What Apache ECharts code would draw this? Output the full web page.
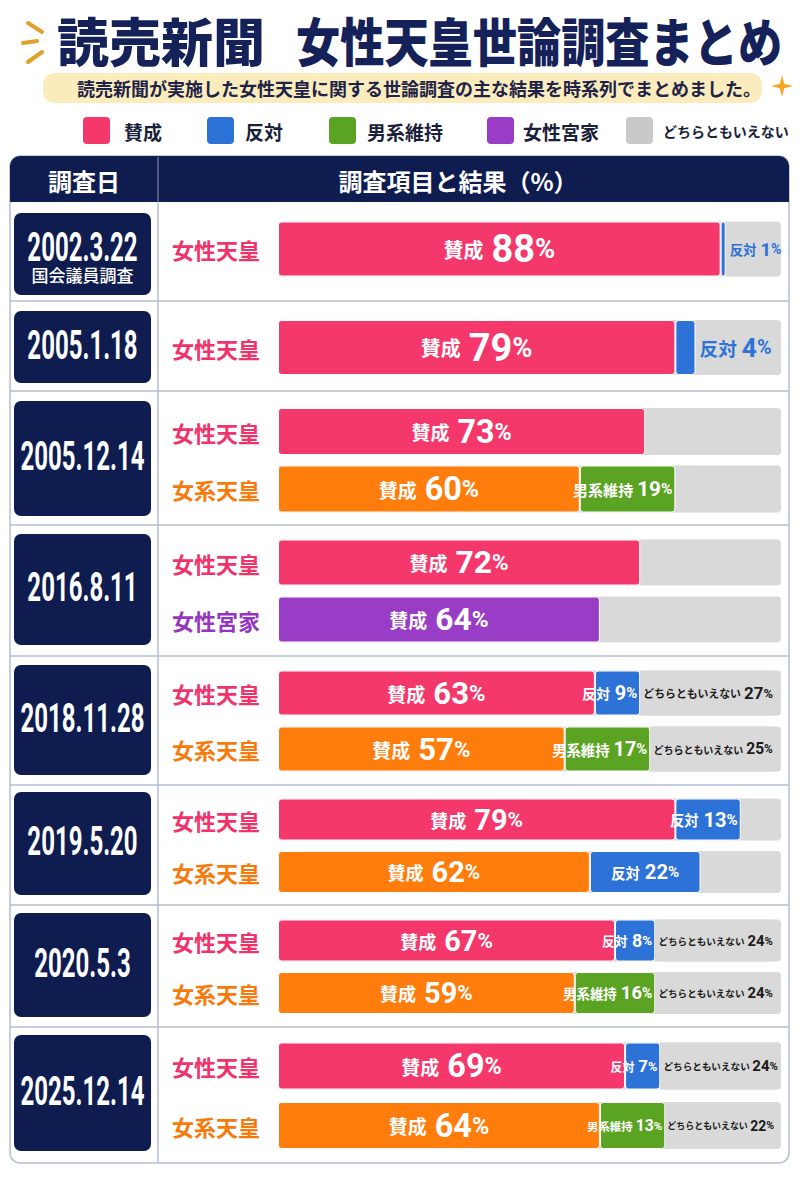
<!DOCTYPE html>
<html><head><meta charset="utf-8">
<script src="https://cdn.jsdelivr.net/npm/echarts@6/dist/echarts.min.js"></script>
<style>html,body{margin:0;padding:0;background:#fff}#c{width:800px;height:1200px}</style>
</head><body><div id="c"></div>
<script>
// ---------------- DATA ----------------
const surveyDates = ['2002.3.22','2005.1.18','2005.12.14','2016.8.11','2018.11.28','2019.5.20','2020.5.3','2025.12.14'];
const surveyNotes = ['国会議員調査','','','','','','',''];
const rowGroup = [0,1,2,2,3,3,4,4,5,5,6,6,7,7];
const rowTopic = ['女性天皇','女性天皇','女性天皇','女系天皇','女性天皇','女性宮家','女性天皇','女系天皇','女性天皇','女系天皇','女性天皇','女系天皇','女性天皇','女系天皇'];
const approve  = [88,79,73,60,72,64,63,57,79,62,67,59,69,64];
const oppose   = [1,4,null,null,null,null,9,null,13,22,8,null,7,null];
const maleLine = [null,null,null,19,null,null,null,17,null,null,null,16,null,13];
const neutral  = [null,null,null,null,null,null,27,25,null,null,24,24,24,22];
const legendNames = ['賛成','反対','男系維持','女性宮家','どちらともいえない'];
const titleMain = ['読売新聞','女性天皇世論調査まとめ'];
const subtitle = '読売新聞が実施した女性天皇に関する世論調査の主な結果を時系列でまとめました。';
const headerLeft = '調査日';
const headerRight = '調査項目と結果（%）';

// ---------------- STYLE / LAYOUT ----------------
const C = {pink:'#f4386b', blue:'#2d72d6', green:'#5ba323', orange:'#ff7d0c', purple:'#9a3dc6', grey:'#d9d9d9', navy:'#0e1c50', title:'#15225a', line:'#b3bdd4'};
const topicColor = {'女性天皇':C.pink,'女系天皇':C.orange,'女性宮家':C.purple};
const topicTextColor = {'女性天皇':'#f0336a','女系天皇':'#f77b0c','女性宮家':'#9636c0'};
const legendColors = [C.pink,C.blue,C.green,C.purple,'#c9c9c9'];
const legendSquareX = [83,207,329,487,626];
const legendTextX = [124,245,367,523,663];
const legendFont = [19,19,19,19,14];
const JP = '"Noto Sans CJK JP", sans-serif';
const NUM = 'Roboto, "Noto Sans CJK JP", sans-serif';
const GRID_LEFT = 278, GRID_RIGHT = 19, BAR_W = 800 - GRID_LEFT - GRID_RIGHT;
const gridTop = [209,307.5,402.75,534,665,793.25,914.25,1036.25];
const gridH = [80,80,115,114,112,105,105,119];
const barW = [55,55,47,46,45,42,42,47];
const boxY = [[213,295],[311,383],[401,516],[534,645],[665,775],[792,895],[913,1017],[1035,1151]];
const dividerY = [301,391,525,656,785,905,1027];

function makeLabel(kind, value, startVal, bw){
  let text, base, col;
  if (kind==='approve'){ text='賛成'; const n=bw*0.69; base={t:Math.round(12+bw*0.15), n:n, p:n*0.72, gap:8}; col='#fff'; }
  else if (kind==='oppose'){ text='反対'; base={t:bw*0.34, n:bw*0.48, p:bw*0.36, gap:5}; col='#fff'; }
  else if (kind==='male'){ text='男系維持'; base={t:bw*0.32, n:bw*0.44, p:bw*0.33, gap:4}; col='#fff'; }
  else { text='どちらともいえない'; base={t:bw*0.245, n:bw*0.38, p:bw*0.29, gap:3}; col='#1b1b1b'; }
  let position='inside', distance=4;
  let avail = value/100*BAR_W - 6;
  const need = base.t*text.length + base.gap + base.n*0.57*String(value).length + base.p*0.75;
  let k = Math.max(0.78, Math.min(1, avail/need));
  if (kind==='oppose' && value < 6){
    position='right'; col=C.blue;
    avail = (100-startVal-value)/100*BAR_W - 10;
    k = Math.max(0.72, Math.min(1, avail/need));
  } else if ((kind==='oppose' || kind==='male') && need > avail){
    position='insideRight'; distance=3;
    k = Math.max(0.75, Math.min(1, (avail+16)/need));
  }
  return {
    show:true, position:position, distance:distance,
    formatter:'{t|'+text+'}{n|'+value+'}{p|%}',
    rich:{
      t:{fontSize:base.t*k, fontWeight:'bold', color:col, fontFamily:JP, padding:[0, base.gap*k, 0, 0]},
      n:{fontSize:base.n*k, fontWeight:'bold', color:col, fontFamily:NUM},
      p:{fontSize:base.p*k, fontWeight:'bold', color:col, fontFamily:NUM}
    }
  };
}

const grids=[], xAxes=[], yAxes=[], series=[];
surveyDates.forEach((d,g)=>{
  const rows = rowGroup.map((gg,i)=>gg===g?i:-1).filter(i=>i>=0);
  const bw = barW[g];
  grids.push({left:GRID_LEFT, right:GRID_RIGHT, top:gridTop[g], height:gridH[g], containLabel:false, outerBoundsMode:'none'});
  xAxes.push({type:'value', gridIndex:g, min:0, max:100, show:false});
  yAxes.push({type:'category', gridIndex:g, inverse:true, data:rows.map(i=>rowTopic[i]),
    axisLine:{show:false}, axisTick:{show:false}, splitLine:{show:false},
    axisLabel:{margin:18, fontSize:22, fontWeight:'bold', fontFamily:JP, color:(v)=>topicTextColor[v]}});
  const common = {type:'bar', xAxisIndex:g, yAxisIndex:g, stack:'s'+g, barWidth:bw,
    itemStyle:{borderRadius:3, borderColor:'#fff', borderWidth:1}};
  series.push(Object.assign({}, common, {name:'賛成', showBackground:true,
    backgroundStyle:{color:C.grey, borderRadius:4},
    data: rows.map(i=>({value:approve[i], itemStyle:{color:topicColor[rowTopic[i]]}, label:makeLabel('approve',approve[i],0,bw)}))}));
  series.push(Object.assign({}, common, {name:'反対', itemStyle:Object.assign({color:C.blue}, common.itemStyle),
    data: rows.map(i=>oppose[i]==null?'-':({value:oppose[i], label:makeLabel('oppose',oppose[i],approve[i],bw)}))}));
  series.push(Object.assign({}, common, {name:'男系維持', itemStyle:Object.assign({color:C.green}, common.itemStyle),
    data: rows.map(i=>maleLine[i]==null?'-':({value:maleLine[i], label:makeLabel('male',maleLine[i],approve[i],bw)}))}));
  series.push(Object.assign({}, common, {name:'どちらともいえない', itemStyle:{color:C.grey, borderRadius:3, borderColor:C.grey, borderWidth:1},
    data: rows.map(i=>neutral[i]==null?'-':({value:neutral[i], label:makeLabel('neutral',neutral[i],0,bw)}))}));
});

// ---------------- GRAPHICS ----------------
const gfx = [];
gfx.push({type:'rect', z:-10, shape:{x:10,y:156,width:779,height:1007,r:10}, style:{fill:'#fff', stroke:C.line, lineWidth:1.5}});
gfx.push({type:'rect', z:-9, shape:{x:10,y:156,width:779,height:46,r:[10,10,0,0]}, style:{fill:C.navy}});
gfx.push({type:'line', z:-8, shape:{x1:158,y1:202,x2:158,y2:1163}, style:{stroke:C.line, lineWidth:1.5}});
gfx.push({type:'line', z:-8, shape:{x1:158,y1:157,x2:158,y2:202}, style:{stroke:'rgba(255,255,255,0.55)', lineWidth:1}});
dividerY.forEach(y=>gfx.push({type:'line', z:-8, shape:{x1:10,y1:y,x2:789,y2:y}, style:{stroke:C.line, lineWidth:1.5}}));
gfx.push({type:'text', x:84, y:180, style:{text:headerLeft, fill:'#fff', font:'bold 24px '+JP, textAlign:'center', textVerticalAlign:'middle'}});
gfx.push({type:'text', x:458, y:180, style:{text:headerRight, fill:'#fff', font:'bold 24px '+JP, textAlign:'center', textVerticalAlign:'middle'}});
surveyDates.forEach((d,g)=>{
  const [y0,y1] = boxY[g];
  gfx.push({type:'rect', z:-5, shape:{x:14,y:y0,width:137,height:y1-y0,r:7}, style:{fill:C.navy}});
  const cy = (y0+y1)/2;
  if (surveyNotes[g]){
    gfx.push({type:'text', x:82.5, y:cy-7, scaleX:0.6, style:{text:d, fill:'#fff', font:'bold 40px Roboto', textAlign:'center', textVerticalAlign:'middle'}});
    gfx.push({type:'text', x:82.5, y:cy+20, style:{text:surveyNotes[g], fill:'#fff', font:'500 17px '+JP, textAlign:'center', textVerticalAlign:'middle'}});
  } else {
    gfx.push({type:'text', x:82.5, y:cy-2, scaleX:0.6, style:{text:d, fill:'#fff', font:'bold 40px Roboto', textAlign:'center', textVerticalAlign:'middle'}});
  }
});
gfx.push({type:'text', x:57, y:39, style:{text:titleMain[0], fill:C.title, font:'900 52px '+JP, textAlign:'left', textVerticalAlign:'middle'}});
gfx.push({type:'text', x:296, y:39, scaleX:0.85, style:{text:titleMain[1], fill:C.title, font:'900 52px '+JP, textAlign:'left', textVerticalAlign:'middle'}});
[[28,23,42,32],[23,43,37,41],[28,62,42,52]].forEach(s=>gfx.push({type:'line', shape:{x1:s[0],y1:s[1],x2:s[2],y2:s[3]}, style:{stroke:'#dfa12a', lineWidth:4, lineCap:'round'}}));
gfx.push({type:'rect', shape:{x:43,y:73,width:719,height:30,r:12}, style:{fill:'#fbecbd'}});
gfx.push({type:'text', x:77, y:88, style:{text:subtitle, fill:'#1e2347', font:'bold 18px '+JP, textAlign:'left', textVerticalAlign:'middle'}});
gfx.push({type:'polygon', shape:{points:[[782,75],[784.2,83.8],[793,86],[784.2,88.2],[782,97],[779.8,88.2],[771,86],[779.8,83.8]]}, style:{fill:'#f5a623'}});
legendNames.forEach((n,i)=>{
  gfx.push({type:'rect', shape:{x:legendSquareX[i], y:117, width:27, height:27, r:4}, style:{fill:legendColors[i]}});
  gfx.push({type:'text', x:legendTextX[i], y:131, style:{text:n, fill:'#1a1f3a', font:'bold '+legendFont[i]+'px '+JP, textAlign:'left', textVerticalAlign:'middle'}});
});

const chart = echarts.init(document.getElementById('c'), null, {renderer:'svg'});
chart.setOption({
  animation:false,
  backgroundColor:'#fff',
  textStyle:{fontFamily:JP},
  tooltip:{show:false},
  grid:grids, xAxis:xAxes, yAxis:yAxes, series:series,
  graphic:{elements:gfx}
});
</script></body></html>
